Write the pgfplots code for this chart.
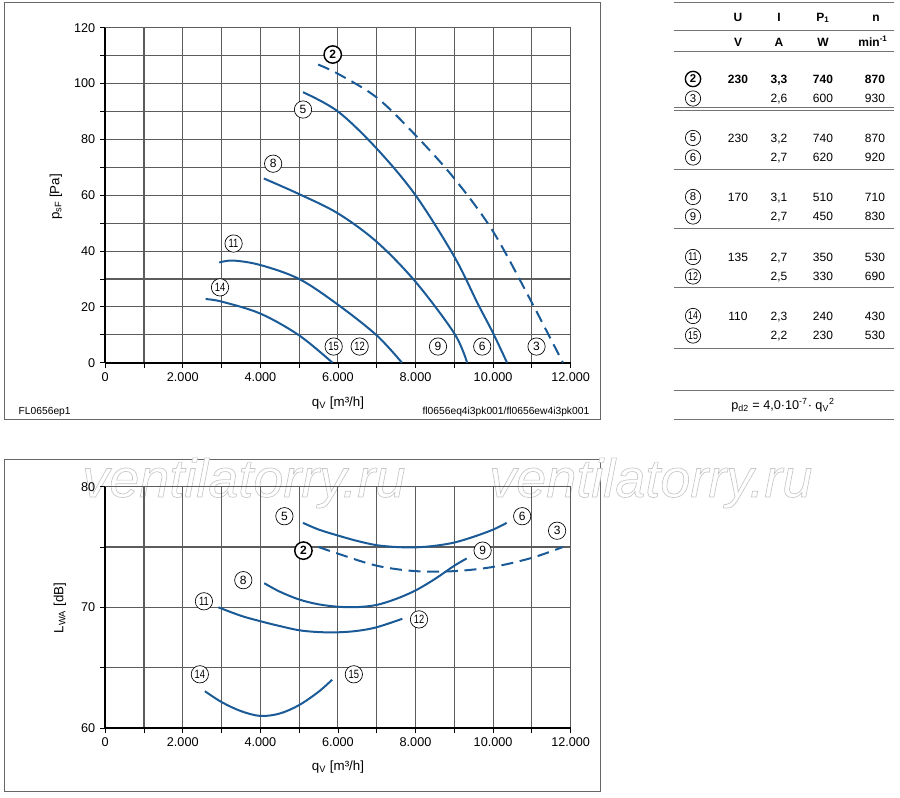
\documentclass[border=0pt]{standalone}
\usepackage{fontspec}
\setmainfont{Liberation Sans}
\usepackage{pgfplots}
\pgfplotsset{compat=1.18}
\definecolor{cblue}{HTML}{1A5A96}
\definecolor{gridc}{gray}{0.36}
\definecolor{tline}{gray}{0.45}
\tikzset{
  num/.style={circle, draw=black, line width=0.5pt, fill=white, inner sep=0pt,
    minimum size=13pt, text height=6.3pt, text depth=0pt, font=\fontsize{9}{10}\selectfont},
  numb/.style={num, line width=1.1pt, font=\fontsize{9}{10}\selectfont\bfseries},
  tnum/.style={num, minimum size=11.5pt, text height=6pt, font=\fontsize{8.5}{9}\selectfont},
  tnumb/.style={tnum, line width=1.0pt, font=\fontsize{8.5}{9}\selectfont\bfseries},
  tf/.style={inner sep=0pt, text height=6.5pt, text depth=0pt, font=\fontsize{9}{10}\selectfont},
  tfb/.style={tf, font=\fontsize{9}{10}\selectfont\bfseries},
}
\newcommand{\two}[1]{\scalebox{0.78}[1]{#1}}
\pgfplotsset{
  mystyle/.style={
    scale only axis, width=349.1pt, anchor=south west,
    xmin=0, xmax=12000,
    xtick={0,2000,...,12000}, minor xtick={1000,3000,...,11000},
    xtick pos=left, ytick pos=left,
    grid=both,
    major grid style={gridc, line width=0.8pt},
    minor grid style={gridc, line width=0.8pt},
    axis line style={draw=none},
    extra x ticks={0}, extra x tick labels={},
    extra x tick style={major grid style={black, line width=1.3pt}, major tick length=0pt},
    extra y tick labels={},
    extra y tick style={major grid style={black, line width=1.3pt}, major tick length=0pt},
    tick align=outside, major tick length=4pt, minor tick length=4pt,
    tick style={black, line width=0.6pt},
    every tick label/.append style={font=\fontsize{9.5}{11}\selectfont},
    /pgf/number format/assume math mode=true,
    /pgf/number format/1000 sep={.},
    scaled ticks=false,
    clip=false,
  },
  crv/.style={cblue, line width=1.5pt, smooth, tension=0.55},
  dsh/.style={crv, dash pattern=on 9pt off 5pt},
}
\begin{document}
\begin{tikzpicture}[x=0.75pt,y=0.75pt]
\useasboundingbox (0,0) rectangle (900,797);
\draw[black!60, line width=0.75pt] (4,377) rectangle (600,794);
\draw[black!60, line width=0.75pt] (4,6) rectangle (600,337);

% watermark (background)
\foreach \wx in {82,489}{
  \node[anchor=base west, inner sep=0pt, text=black!22, font=\fontsize{40.5}{41}\selectfont\itshape]
    at (\wx,300) {\special{pdf:literal direct 2 Tr 0.5 w 1 g}ventilatorry.ru};
}

% ---------------- top chart ----------------
\begin{axis}[mystyle, at={(78.9pt,325.7pt)}, height=251.25pt,
  ymin=0, ymax=120, ytick={0,20,...,120}, minor ytick={10,30,...,110}, extra y ticks={0}]
\addplot[dsh] coordinates {(5490,106.8) (6000,103.5) (7000,95) (8000,81.5) (9000,66) (10000,47) (11000,21.5) (11800,0)};
\addplot[crv] coordinates {(5100,96.9) (6000,90) (7000,76.7) (8000,60) (9000,38) (9600,21.3) (10000,10.6) (10360,0)};
\addplot[crv] coordinates {(4090,66) (5000,60.4) (6000,53.5) (7000,43.3) (8000,29) (9000,10.5) (9330,0)};
\addplot[crv] coordinates {(2940,35.9) (3300,36.6) (4000,35) (5000,30) (6000,20.8) (7000,9.8) (7650,0)};
\addplot[crv] coordinates {(2590,22.8) (3000,21.9) (4000,17.6) (5000,9.8) (5860,0)};
\node[numb] at (axis cs:5866,110.4) {2};
\node[num] at (axis cs:5100,90.7) {5};
\node[num] at (axis cs:4330,71.3) {8};
\node[num] at (axis cs:3310,42.7) {\two{11}};
\node[num] at (axis cs:2960,27) {\two{14}};
\node[num] at (axis cs:5890,5.8) {\two{15}};
\node[num] at (axis cs:6560,5.8) {\two{12}};
\node[num] at (axis cs:8580,5.8) {9};
\node[num] at (axis cs:9720,5.8) {6};
\node[num] at (axis cs:11120,5.8) {3};
\end{axis}
\node[rotate=90, font=\fontsize{10}{11}\selectfont] at (56,600) {p\textsubscript{sF} [Pa]};
\node[font=\fontsize{10}{11}\selectfont] at (338,394) {q\textsubscript{V} [m³/h]};
\node[anchor=west, font=\fontsize{7.7}{9}\selectfont] at (14,385) {FL0656ep1};
\node[anchor=east, font=\fontsize{7.7}{9}\selectfont] at (594,385) {fl0656eq4i3pk001/fl0656ew4i3pk001};

% ---------------- bottom chart ----------------
\begin{axis}[mystyle, at={(78.9pt,51.75pt)}, height=181pt,
  ymin=60, ymax=80, ytick={60,70,80}, minor ytick={65,75}, extra y ticks={60}]
\addplot[crv] coordinates {(5100,77) (5500,76.45) (6000,75.95) (6500,75.5) (7000,75.15) (7500,75.0) (8000,74.97) (8500,75.1) (9000,75.37) (9500,75.85) (10000,76.44) (10350,77)};
\addplot[dsh] coordinates {(5500,75) (6000,74.45) (7000,73.45) (8000,73.0) (9000,73.0) (10000,73.35) (11000,74.1) (11800,75)};
\addplot[crv] coordinates {(4100,72) (4500,71.3) (5000,70.65) (5500,70.25) (6000,70.05) (6500,70.02) (7000,70.2) (7500,70.7) (8000,71.4) (8500,72.35) (9000,73.45) (9320,74.05)};
\addplot[crv] coordinates {(2920,70) (3500,69.3) (4000,68.85) (4500,68.45) (5000,68.1) (5500,67.95) (6000,67.93) (6500,68.05) (7000,68.35) (7660,69.05)};
\addplot[crv] coordinates {(2570,63.05) (3000,62.15) (3500,61.4) (4000,61.0) (4500,61.2) (5000,61.9) (5500,63.0) (5850,64)};
\node[num] at (axis cs:4620,77.55) {5};
\node[num] at (axis cs:10750,77.55) {6};
\node[num] at (axis cs:11650,76.35) {3};
\node[numb] at (axis cs:5110,74.7) {2};
\node[num] at (axis cs:9730,74.7) {9};
\node[num] at (axis cs:3560,72.25) {8};
\node[num] at (axis cs:2545,70.5) {\two{11}};
\node[num] at (axis cs:8090,69) {\two{12}};
\node[num] at (axis cs:2440,64.45) {\two{14}};
\node[num] at (axis cs:6410,64.45) {\two{15}};
\end{axis}
\node[rotate=90, font=\fontsize{10}{11}\selectfont] at (60,189) {L\textsubscript{WA} [dB]};
\node[font=\fontsize{10}{11}\selectfont] at (338,30) {q\textsubscript{V} [m³/h]};

% ---------------- table ----------------
\foreach \ly in {794,766,745,689,686,627,568,509,448,406,377}{
  \draw[tline, line width=0.75pt] (674,\ly) -- (894,\ly);
}
\node[tfb] at (738,780) {U};
\node[tfb] at (779,780) {I};
\node[tfb] at (823,780) {P\textsubscript{1}};
\node[tfb] at (876,780) {n};
\node[tfb] at (738,755) {V};
\node[tfb] at (779,755) {A};
\node[tfb] at (823,755) {W};
\node[tfb] at (873,755) {min\textsuperscript{-1}};
\newcommand{\trow}[6]{%
  \node[tnum] at (693,#1) {#2};
  \node[tf] at (738,#1) {#3};
  \node[tf] at (779,#1) {#4};
  \node[tf] at (823,#1) {#5};
  \node[tf] at (875,#1) {#6};}
\node[tnumb] at (693,718) {2};
\node[tfb] at (738,718) {230};
\node[tfb] at (779,718) {3,3};
\node[tfb] at (823,718) {740};
\node[tfb] at (875,718) {870};
\trow{698.5}{3}{}{2,6}{600}{930}
\trow{659}{5}{230}{3,2}{740}{870}
\trow{639.5}{6}{}{2,7}{620}{920}
\trow{600}{8}{170}{3,1}{510}{710}
\trow{580.5}{9}{}{2,7}{450}{830}
\trow{540}{\two{11}}{135}{2,7}{350}{530}
\trow{520.5}{\two{12}}{}{2,5}{330}{690}
\trow{481}{\two{14}}{110}{2,3}{240}{430}
\trow{461.5}{\two{15}}{}{2,2}{230}{530}
\node[font=\fontsize{9.5}{10}\selectfont] at (783,392) {p\textsubscript{d2} = 4,0·10\textsuperscript{-7}· q\textsubscript{V}\textsuperscript{2}};
\end{tikzpicture}
\end{document}
